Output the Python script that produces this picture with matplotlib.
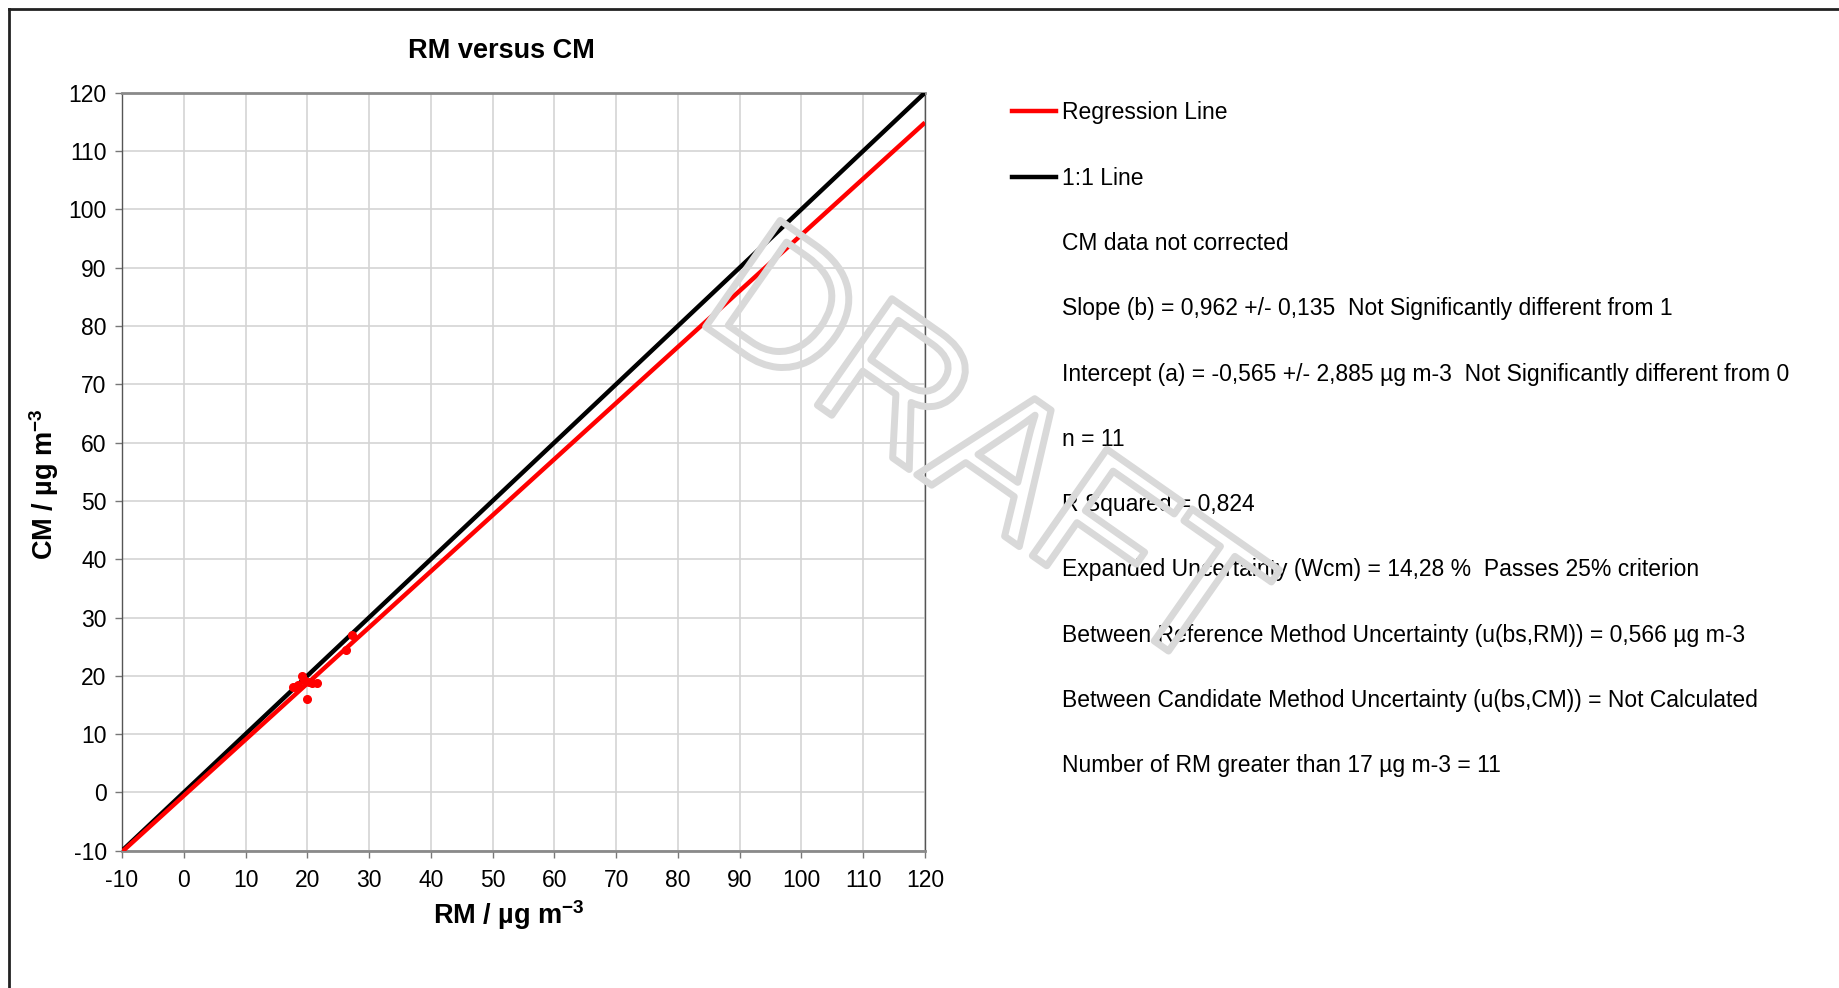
import numpy as np
import matplotlib
matplotlib.use("Agg")
import matplotlib.pyplot as plt
from matplotlib.lines import Line2D
import matplotlib.patheffects as pe

plt.rcParams['font.family'] = ['Liberation Sans', 'DejaVu Sans']
plt.rcParams['mathtext.fontset'] = 'custom'
plt.rcParams['mathtext.rm'] = 'Liberation Sans'
plt.rcParams['mathtext.bf'] = 'Liberation Sans:bold'
plt.rcParams['axes.unicode_minus'] = False

# paired measurements (reference method vs candidate method)
rm = [17.7, 18.2, 18.5, 19.1, 19.5, 19.9, 20.3, 20.7, 21.6, 26.3, 27.2]
cm = [18.1, 18.0, 18.4, 20.0, 19.3, 16.1, 18.9, 18.7, 18.8, 24.4, 27.0]

slope = 0.962
intercept = -0.565
line_x = np.array([-10, 120])
ticks = list(range(-10, 121, 10))

info_lines = [
    "CM data not corrected",
    "Slope (b) = 0,962 +/- 0,135  Not Significantly different from 1",
    "Intercept (a) = -0,565 +/- 2,885 µg m-3  Not Significantly different from 0",
    "n = 11",
    "R Squared = 0,824",
    "Expanded Uncertainty (Wcm) = 14,28 %  Passes 25% criterion",
    "Between Reference Method Uncertainty (u(bs,RM)) = 0,566 µg m-3",
    "Between Candidate Method Uncertainty (u(bs,CM)) = Not Calculated",
    "Number of RM greater than 17 µg m-3 = 11",
]

fig = plt.figure(figsize=(18.4, 9.88), dpi=100)
ax = fig.add_axes([0.0663, 0.1389, 0.4364, 0.7673])

ax.plot(line_x, line_x, color="black", lw=3.2, zorder=3, solid_capstyle="butt")
ax.plot(line_x, slope * line_x + intercept, color="#ff0000", lw=3.2, zorder=4,
        solid_capstyle="butt")
ax.plot(rm, cm, "o", color="#ff0000", ms=5.5, zorder=5)

ax.set_xlim(-10, 120)
ax.set_ylim(-10, 120)
ax.set_xticks(ticks)
ax.set_yticks(ticks)
ax.grid(True, color="#d4d4d4", lw=1.2)
ax.set_axisbelow(True)
for side in ["left", "right"]:
    ax.spines[side].set_color("#555555")
    ax.spines[side].set_linewidth(1.0)
for side in ["top", "bottom"]:
    ax.spines[side].set_color("#8a8a8a")
    ax.spines[side].set_linewidth(2.0)
ax.tick_params(axis="both", labelsize=16.5, length=5, width=1, color="#777777",
               direction="out", pad=6)
ax.tick_params(axis="x", pad=8)

ax.set_title("RM versus CM", fontsize=19.5, fontweight="bold", x=0.473, y=1.0545,
             va="center", pad=0)
ax.set_xlabel(r"RM / µg m$^{\mathbf{-3}}$", fontsize=19.5, fontweight="bold",
              va="center")
ax.xaxis.set_label_coords(0.482, -0.085)
ax.set_ylabel(r"CM / µg m$^{\mathbf{-3}}$", fontsize=19.5, fontweight="bold",
              va="center", ha="center")
ax.yaxis.set_label_coords(-0.0964, 0.484)

handles = [Line2D([], [], color="#ff0000", lw=3.2),
           Line2D([], [], color="black", lw=3.2)]
handles += [Line2D([], [], color="none") for _ in info_lines]
labels = ["Regression Line", "1:1 Line"] + info_lines
fig.legend(handles, labels, loc="upper left", bbox_to_anchor=(1012 / 1840, 1 - 101.5 / 988),
           frameon=False, fontsize=16.5, handlelength=1.92, handletextpad=0.26,
           labelspacing=1.845, borderpad=0, borderaxespad=0)

# watermark
fig.text(0.532, 0.536, "DRAFT", fontsize=136, rotation=-35, ha="center", va="center",
         color="none", path_effects=[pe.Stroke(linewidth=5, foreground="#d9d9d9")],
         zorder=10)

# outer frame
fig.add_artist(Line2D([9 / 1840, 1], [1 - 9 / 988, 1 - 9 / 988], color="#222222", lw=2))
fig.add_artist(Line2D([9 / 1840, 9 / 1840], [0, 1 - 9 / 988], color="#222222", lw=2))

fig.savefig("out.png", dpi=100)
